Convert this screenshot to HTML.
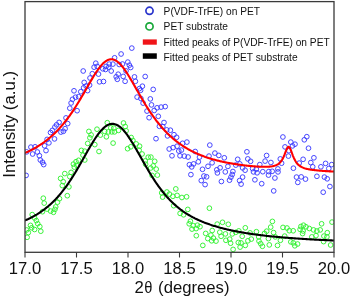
<!DOCTYPE html><html><head><meta charset="utf-8"><style>html,body{margin:0;padding:0;background:#fff;}svg{display:block;will-change:transform;}</style></head><body>
<svg width="350" height="298" viewBox="0 0 350 298">
<rect x="0" y="0" width="350" height="298" fill="#fff"/>
<defs><clipPath id="c"><rect x="25.00" y="1.60" width="309.00" height="250.70"/></clipPath></defs>
<g clip-path="url(#c)" fill="none" stroke-width="0.95">
<g stroke="#3c3cff">
<circle cx="74.0" cy="90.8" r="2.35"/>
<circle cx="83.6" cy="87.8" r="2.35"/>
<circle cx="80.8" cy="91.7" r="2.35"/>
<circle cx="75.5" cy="97.2" r="2.35"/>
<circle cx="72.5" cy="99.3" r="2.35"/>
<circle cx="71.1" cy="103.0" r="2.35"/>
<circle cx="69.8" cy="108.2" r="2.35"/>
<circle cx="77.1" cy="110.7" r="2.35"/>
<circle cx="66.0" cy="117.9" r="2.35"/>
<circle cx="67.7" cy="123.6" r="2.35"/>
<circle cx="59.1" cy="122.4" r="2.35"/>
<circle cx="56.6" cy="124.8" r="2.35"/>
<circle cx="54.9" cy="127.0" r="2.35"/>
<circle cx="52.3" cy="130.4" r="2.35"/>
<circle cx="50.5" cy="132.5" r="2.35"/>
<circle cx="65.1" cy="128.7" r="2.35"/>
<circle cx="63.4" cy="131.3" r="2.35"/>
<circle cx="60.9" cy="132.1" r="2.35"/>
<circle cx="26.6" cy="151.9" r="2.35"/>
<circle cx="30.9" cy="147.1" r="2.35"/>
<circle cx="32.6" cy="154.0" r="2.35"/>
<circle cx="35.1" cy="146.8" r="2.35"/>
<circle cx="37.4" cy="152.0" r="2.35"/>
<circle cx="39.4" cy="155.7" r="2.35"/>
<circle cx="40.3" cy="160.0" r="2.35"/>
<circle cx="42.5" cy="162.2" r="2.35"/>
<circle cx="43.7" cy="164.6" r="2.35"/>
<circle cx="44.6" cy="145.8" r="2.35"/>
<circle cx="46.0" cy="150.6" r="2.35"/>
<circle cx="47.1" cy="139.4" r="2.35"/>
<circle cx="48.9" cy="142.9" r="2.35"/>
<circle cx="54.5" cy="138.9" r="2.35"/>
<circle cx="26.1" cy="175.4" r="2.35"/>
<circle cx="83.2" cy="71.0" r="2.35"/>
<circle cx="92.3" cy="73.7" r="2.35"/>
<circle cx="90.0" cy="78.0" r="2.35"/>
<circle cx="98.5" cy="74.1" r="2.35"/>
<circle cx="99.5" cy="81.8" r="2.35"/>
<circle cx="84.2" cy="82.4" r="2.35"/>
<circle cx="86.1" cy="86.1" r="2.35"/>
<circle cx="89.6" cy="85.1" r="2.35"/>
<circle cx="87.6" cy="90.6" r="2.35"/>
<circle cx="78.6" cy="96.7" r="2.35"/>
<circle cx="121.1" cy="54.0" r="2.35"/>
<circle cx="114.6" cy="57.8" r="2.35"/>
<circle cx="95.8" cy="63.2" r="2.35"/>
<circle cx="94.1" cy="67.2" r="2.35"/>
<circle cx="97.2" cy="66.4" r="2.35"/>
<circle cx="102.8" cy="68.8" r="2.35"/>
<circle cx="105.5" cy="69.5" r="2.35"/>
<circle cx="106.1" cy="66.4" r="2.35"/>
<circle cx="109.2" cy="64.1" r="2.35"/>
<circle cx="112.9" cy="64.1" r="2.35"/>
<circle cx="108.8" cy="67.2" r="2.35"/>
<circle cx="111.2" cy="71.0" r="2.35"/>
<circle cx="119.2" cy="64.5" r="2.35"/>
<circle cx="118.2" cy="74.2" r="2.35"/>
<circle cx="116.2" cy="76.8" r="2.35"/>
<circle cx="117.3" cy="79.3" r="2.35"/>
<circle cx="123.2" cy="76.4" r="2.35"/>
<circle cx="103.5" cy="81.5" r="2.35"/>
<circle cx="122.5" cy="64.0" r="2.35"/>
<circle cx="131.8" cy="48.1" r="2.35"/>
<circle cx="127.8" cy="62.1" r="2.35"/>
<circle cx="129.4" cy="65.2" r="2.35"/>
<circle cx="130.7" cy="67.5" r="2.35"/>
<circle cx="126.0" cy="70.9" r="2.35"/>
<circle cx="134.5" cy="76.9" r="2.35"/>
<circle cx="145.2" cy="76.5" r="2.35"/>
<circle cx="139.4" cy="88.6" r="2.35"/>
<circle cx="142.4" cy="86.2" r="2.35"/>
<circle cx="140.6" cy="90.3" r="2.35"/>
<circle cx="137.1" cy="97.1" r="2.35"/>
<circle cx="140.9" cy="98.5" r="2.35"/>
<circle cx="143.1" cy="103.1" r="2.35"/>
<circle cx="153.2" cy="89.4" r="2.35"/>
<circle cx="150.3" cy="98.9" r="2.35"/>
<circle cx="151.5" cy="104.9" r="2.35"/>
<circle cx="147.0" cy="111.1" r="2.35"/>
<circle cx="154.2" cy="110.5" r="2.35"/>
<circle cx="157.1" cy="107.8" r="2.35"/>
<circle cx="161.1" cy="107.1" r="2.35"/>
<circle cx="165.2" cy="106.6" r="2.35"/>
<circle cx="149.1" cy="117.7" r="2.35"/>
<circle cx="158.3" cy="116.3" r="2.35"/>
<circle cx="164.0" cy="122.5" r="2.35"/>
<circle cx="159.4" cy="126.3" r="2.35"/>
<circle cx="162.8" cy="126.6" r="2.35"/>
<circle cx="166.7" cy="129.9" r="2.35"/>
<circle cx="170.4" cy="130.2" r="2.35"/>
<circle cx="135.4" cy="81.3" r="2.35"/>
<circle cx="125.1" cy="81.3" r="2.35"/>
<circle cx="167.5" cy="135.9" r="2.35"/>
<circle cx="174.0" cy="134.7" r="2.35"/>
<circle cx="176.6" cy="137.3" r="2.35"/>
<circle cx="156.0" cy="138.7" r="2.35"/>
<circle cx="182.6" cy="143.3" r="2.35"/>
<circle cx="186.9" cy="142.1" r="2.35"/>
<circle cx="169.2" cy="149.0" r="2.35"/>
<circle cx="173.1" cy="147.6" r="2.35"/>
<circle cx="177.1" cy="146.2" r="2.35"/>
<circle cx="178.8" cy="151.0" r="2.35"/>
<circle cx="181.4" cy="150.1" r="2.35"/>
<circle cx="172.0" cy="155.8" r="2.35"/>
<circle cx="180.0" cy="155.8" r="2.35"/>
<circle cx="184.3" cy="156.1" r="2.35"/>
<circle cx="188.1" cy="157.0" r="2.35"/>
<circle cx="195.2" cy="151.5" r="2.35"/>
<circle cx="199.5" cy="157.1" r="2.35"/>
<circle cx="198.3" cy="161.8" r="2.35"/>
<circle cx="209.8" cy="145.1" r="2.35"/>
<circle cx="209.0" cy="156.1" r="2.35"/>
<circle cx="189.4" cy="164.7" r="2.35"/>
<circle cx="193.6" cy="163.9" r="2.35"/>
<circle cx="191.7" cy="166.9" r="2.35"/>
<circle cx="190.9" cy="174.6" r="2.35"/>
<circle cx="214.9" cy="153.1" r="2.35"/>
<circle cx="218.8" cy="155.4" r="2.35"/>
<circle cx="224.3" cy="157.8" r="2.35"/>
<circle cx="212.1" cy="162.8" r="2.35"/>
<circle cx="208.0" cy="166.3" r="2.35"/>
<circle cx="202.5" cy="169.3" r="2.35"/>
<circle cx="203.9" cy="176.0" r="2.35"/>
<circle cx="206.6" cy="176.8" r="2.35"/>
<circle cx="216.8" cy="169.8" r="2.35"/>
<circle cx="217.4" cy="172.9" r="2.35"/>
<circle cx="220.1" cy="167.8" r="2.35"/>
<circle cx="227.9" cy="166.4" r="2.35"/>
<circle cx="225.3" cy="171.9" r="2.35"/>
<circle cx="232.9" cy="171.5" r="2.35"/>
<circle cx="232.2" cy="174.5" r="2.35"/>
<circle cx="230.9" cy="177.2" r="2.35"/>
<circle cx="229.5" cy="180.2" r="2.35"/>
<circle cx="221.4" cy="181.5" r="2.35"/>
<circle cx="237.7" cy="159.3" r="2.35"/>
<circle cx="235.8" cy="165.1" r="2.35"/>
<circle cx="239.8" cy="163.9" r="2.35"/>
<circle cx="245.1" cy="170.2" r="2.35"/>
<circle cx="246.9" cy="151.8" r="2.35"/>
<circle cx="247.8" cy="158.9" r="2.35"/>
<circle cx="242.6" cy="177.1" r="2.35"/>
<circle cx="201.3" cy="180.6" r="2.35"/>
<circle cx="239.6" cy="180.6" r="2.35"/>
<circle cx="241.1" cy="184.1" r="2.35"/>
<circle cx="253.5" cy="171.9" r="2.35"/>
<circle cx="257.1" cy="172.8" r="2.35"/>
<circle cx="254.9" cy="179.8" r="2.35"/>
<circle cx="205.1" cy="184.6" r="2.35"/>
<circle cx="282.9" cy="137.0" r="2.35"/>
<circle cx="290.8" cy="142.1" r="2.35"/>
<circle cx="295.0" cy="144.2" r="2.35"/>
<circle cx="292.5" cy="145.9" r="2.35"/>
<circle cx="285.0" cy="146.9" r="2.35"/>
<circle cx="288.9" cy="150.7" r="2.35"/>
<circle cx="288.4" cy="156.1" r="2.35"/>
<circle cx="250.6" cy="161.3" r="2.35"/>
<circle cx="266.6" cy="155.5" r="2.35"/>
<circle cx="265.1" cy="161.1" r="2.35"/>
<circle cx="270.9" cy="162.5" r="2.35"/>
<circle cx="280.3" cy="158.9" r="2.35"/>
<circle cx="281.6" cy="163.2" r="2.35"/>
<circle cx="259.8" cy="164.6" r="2.35"/>
<circle cx="242.6" cy="167.9" r="2.35"/>
<circle cx="256.3" cy="169.2" r="2.35"/>
<circle cx="262.8" cy="171.7" r="2.35"/>
<circle cx="268.8" cy="171.6" r="2.35"/>
<circle cx="272.2" cy="171.3" r="2.35"/>
<circle cx="277.9" cy="168.9" r="2.35"/>
<circle cx="278.0" cy="171.9" r="2.35"/>
<circle cx="293.4" cy="168.2" r="2.35"/>
<circle cx="299.2" cy="163.1" r="2.35"/>
<circle cx="252.6" cy="168.6" r="2.35"/>
<circle cx="268.5" cy="175.1" r="2.35"/>
<circle cx="274.9" cy="178.0" r="2.35"/>
<circle cx="261.7" cy="183.7" r="2.35"/>
<circle cx="273.7" cy="190.9" r="2.35"/>
<circle cx="296.5" cy="177.1" r="2.35"/>
<circle cx="301.2" cy="176.9" r="2.35"/>
<circle cx="305.5" cy="179.1" r="2.35"/>
<circle cx="297.8" cy="182.4" r="2.35"/>
<circle cx="306.8" cy="136.7" r="2.35"/>
<circle cx="304.3" cy="139.8" r="2.35"/>
<circle cx="308.5" cy="148.2" r="2.35"/>
<circle cx="303.1" cy="159.3" r="2.35"/>
<circle cx="313.9" cy="157.8" r="2.35"/>
<circle cx="310.8" cy="162.6" r="2.35"/>
<circle cx="320.9" cy="166.8" r="2.35"/>
<circle cx="325.6" cy="163.4" r="2.35"/>
<circle cx="312.7" cy="166.8" r="2.35"/>
<circle cx="331.7" cy="164.6" r="2.35"/>
<circle cx="328.8" cy="168.5" r="2.35"/>
<circle cx="316.9" cy="176.3" r="2.35"/>
<circle cx="324.4" cy="177.1" r="2.35"/>
<circle cx="327.2" cy="178.8" r="2.35"/>
<circle cx="329.9" cy="186.5" r="2.35"/>
<circle cx="323.2" cy="192.2" r="2.35"/>
</g><g stroke="#30f030">
<circle cx="44.2" cy="203.1" r="2.35"/>
<circle cx="57.5" cy="202.2" r="2.35"/>
<circle cx="55.7" cy="206.9" r="2.35"/>
<circle cx="54.9" cy="209.4" r="2.35"/>
<circle cx="53.5" cy="212.3" r="2.35"/>
<circle cx="50.6" cy="211.1" r="2.35"/>
<circle cx="47.1" cy="209.1" r="2.35"/>
<circle cx="42.5" cy="211.7" r="2.35"/>
<circle cx="32.2" cy="214.6" r="2.35"/>
<circle cx="34.6" cy="218.0" r="2.35"/>
<circle cx="36.3" cy="220.6" r="2.35"/>
<circle cx="37.7" cy="223.7" r="2.35"/>
<circle cx="39.8" cy="226.6" r="2.35"/>
<circle cx="40.8" cy="231.2" r="2.35"/>
<circle cx="30.5" cy="225.4" r="2.35"/>
<circle cx="31.7" cy="227.8" r="2.35"/>
<circle cx="34.6" cy="229.5" r="2.35"/>
<circle cx="26.6" cy="230.0" r="2.35"/>
<circle cx="28.3" cy="232.6" r="2.35"/>
<circle cx="27.1" cy="237.3" r="2.35"/>
<circle cx="64.8" cy="173.6" r="2.35"/>
<circle cx="71.1" cy="172.4" r="2.35"/>
<circle cx="60.6" cy="178.4" r="2.35"/>
<circle cx="63.2" cy="181.7" r="2.35"/>
<circle cx="69.8" cy="176.6" r="2.35"/>
<circle cx="62.3" cy="185.6" r="2.35"/>
<circle cx="68.9" cy="186.9" r="2.35"/>
<circle cx="67.3" cy="195.7" r="2.35"/>
<circle cx="43.3" cy="198.2" r="2.35"/>
<circle cx="59.5" cy="198.7" r="2.35"/>
<circle cx="81.4" cy="150.4" r="2.35"/>
<circle cx="84.8" cy="151.2" r="2.35"/>
<circle cx="99.0" cy="151.5" r="2.35"/>
<circle cx="83.0" cy="155.1" r="2.35"/>
<circle cx="84.8" cy="160.0" r="2.35"/>
<circle cx="78.6" cy="160.3" r="2.35"/>
<circle cx="76.0" cy="161.7" r="2.35"/>
<circle cx="73.4" cy="164.1" r="2.35"/>
<circle cx="76.9" cy="165.4" r="2.35"/>
<circle cx="74.3" cy="167.1" r="2.35"/>
<circle cx="107.3" cy="122.7" r="2.35"/>
<circle cx="123.5" cy="123.0" r="2.35"/>
<circle cx="125.2" cy="126.5" r="2.35"/>
<circle cx="97.0" cy="129.2" r="2.35"/>
<circle cx="110.8" cy="127.8" r="2.35"/>
<circle cx="113.8" cy="128.1" r="2.35"/>
<circle cx="104.7" cy="131.4" r="2.35"/>
<circle cx="108.4" cy="131.9" r="2.35"/>
<circle cx="111.8" cy="131.9" r="2.35"/>
<circle cx="114.5" cy="131.9" r="2.35"/>
<circle cx="118.5" cy="130.4" r="2.35"/>
<circle cx="126.1" cy="130.8" r="2.35"/>
<circle cx="100.4" cy="135.1" r="2.35"/>
<circle cx="106.4" cy="136.8" r="2.35"/>
<circle cx="113.1" cy="143.1" r="2.35"/>
<circle cx="94.8" cy="144.6" r="2.35"/>
<circle cx="131.2" cy="137.5" r="2.35"/>
<circle cx="132.9" cy="140.5" r="2.35"/>
<circle cx="127.6" cy="148.7" r="2.35"/>
<circle cx="130.8" cy="146.8" r="2.35"/>
<circle cx="88.9" cy="131.4" r="2.35"/>
<circle cx="91.1" cy="134.9" r="2.35"/>
<circle cx="89.9" cy="137.8" r="2.35"/>
<circle cx="87.7" cy="143.4" r="2.35"/>
<circle cx="136.2" cy="143.9" r="2.35"/>
<circle cx="139.6" cy="146.2" r="2.35"/>
<circle cx="139.1" cy="150.2" r="2.35"/>
<circle cx="142.1" cy="154.0" r="2.35"/>
<circle cx="148.2" cy="157.2" r="2.35"/>
<circle cx="145.2" cy="160.9" r="2.35"/>
<circle cx="145.6" cy="164.2" r="2.35"/>
<circle cx="154.7" cy="161.3" r="2.35"/>
<circle cx="153.2" cy="165.9" r="2.35"/>
<circle cx="150.7" cy="168.0" r="2.35"/>
<circle cx="156.2" cy="169.1" r="2.35"/>
<circle cx="152.1" cy="175.4" r="2.35"/>
<circle cx="157.4" cy="175.1" r="2.35"/>
<circle cx="150.9" cy="157.1" r="2.35"/>
<circle cx="175.8" cy="188.9" r="2.35"/>
<circle cx="166.9" cy="192.0" r="2.35"/>
<circle cx="169.4" cy="194.1" r="2.35"/>
<circle cx="172.9" cy="196.3" r="2.35"/>
<circle cx="177.1" cy="195.4" r="2.35"/>
<circle cx="181.9" cy="197.5" r="2.35"/>
<circle cx="186.6" cy="196.8" r="2.35"/>
<circle cx="161.7" cy="192.9" r="2.35"/>
<circle cx="162.6" cy="197.1" r="2.35"/>
<circle cx="173.7" cy="205.7" r="2.35"/>
<circle cx="187.8" cy="209.4" r="2.35"/>
<circle cx="209.4" cy="208.2" r="2.35"/>
<circle cx="180.1" cy="213.4" r="2.35"/>
<circle cx="183.6" cy="214.8" r="2.35"/>
<circle cx="190.4" cy="221.2" r="2.35"/>
<circle cx="189.2" cy="223.8" r="2.35"/>
<circle cx="193.3" cy="225.7" r="2.35"/>
<circle cx="197.4" cy="225.2" r="2.35"/>
<circle cx="200.0" cy="226.7" r="2.35"/>
<circle cx="196.1" cy="228.6" r="2.35"/>
<circle cx="217.2" cy="224.1" r="2.35"/>
<circle cx="192.0" cy="229.1" r="2.35"/>
<circle cx="196.3" cy="235.7" r="2.35"/>
<circle cx="205.7" cy="233.4" r="2.35"/>
<circle cx="212.2" cy="230.5" r="2.35"/>
<circle cx="210.9" cy="235.1" r="2.35"/>
<circle cx="207.8" cy="238.6" r="2.35"/>
<circle cx="213.4" cy="238.1" r="2.35"/>
<circle cx="216.0" cy="241.1" r="2.35"/>
<circle cx="211.7" cy="240.8" r="2.35"/>
<circle cx="222.5" cy="222.3" r="2.35"/>
<circle cx="228.3" cy="224.3" r="2.35"/>
<circle cx="219.8" cy="232.2" r="2.35"/>
<circle cx="221.1" cy="236.3" r="2.35"/>
<circle cx="225.4" cy="233.9" r="2.35"/>
<circle cx="225.9" cy="240.3" r="2.35"/>
<circle cx="229.7" cy="239.1" r="2.35"/>
<circle cx="230.6" cy="243.2" r="2.35"/>
<circle cx="232.3" cy="233.9" r="2.35"/>
<circle cx="235.8" cy="232.3" r="2.35"/>
<circle cx="238.3" cy="242.5" r="2.35"/>
<circle cx="202.8" cy="245.4" r="2.35"/>
<circle cx="233.1" cy="249.4" r="2.35"/>
<circle cx="272.4" cy="221.4" r="2.35"/>
<circle cx="270.7" cy="227.1" r="2.35"/>
<circle cx="245.3" cy="227.8" r="2.35"/>
<circle cx="238.8" cy="230.9" r="2.35"/>
<circle cx="250.1" cy="232.9" r="2.35"/>
<circle cx="256.4" cy="231.7" r="2.35"/>
<circle cx="266.7" cy="231.2" r="2.35"/>
<circle cx="264.5" cy="233.4" r="2.35"/>
<circle cx="273.6" cy="232.6" r="2.35"/>
<circle cx="283.0" cy="227.4" r="2.35"/>
<circle cx="287.0" cy="228.0" r="2.35"/>
<circle cx="289.3" cy="230.7" r="2.35"/>
<circle cx="293.2" cy="230.8" r="2.35"/>
<circle cx="242.2" cy="236.3" r="2.35"/>
<circle cx="251.3" cy="239.1" r="2.35"/>
<circle cx="247.9" cy="240.8" r="2.35"/>
<circle cx="258.7" cy="236.9" r="2.35"/>
<circle cx="259.0" cy="241.1" r="2.35"/>
<circle cx="260.7" cy="243.7" r="2.35"/>
<circle cx="262.4" cy="246.3" r="2.35"/>
<circle cx="268.4" cy="238.6" r="2.35"/>
<circle cx="275.3" cy="236.9" r="2.35"/>
<circle cx="280.4" cy="240.3" r="2.35"/>
<circle cx="284.7" cy="236.1" r="2.35"/>
<circle cx="290.8" cy="241.9" r="2.35"/>
<circle cx="293.3" cy="242.9" r="2.35"/>
<circle cx="241.0" cy="242.9" r="2.35"/>
<circle cx="245.3" cy="245.4" r="2.35"/>
<circle cx="240.1" cy="247.1" r="2.35"/>
<circle cx="269.3" cy="244.9" r="2.35"/>
<circle cx="277.5" cy="245.4" r="2.35"/>
<circle cx="294.8" cy="245.8" r="2.35"/>
<circle cx="300.9" cy="226.5" r="2.35"/>
<circle cx="303.5" cy="225.2" r="2.35"/>
<circle cx="306.0" cy="226.8" r="2.35"/>
<circle cx="300.1" cy="229.4" r="2.35"/>
<circle cx="303.1" cy="231.0" r="2.35"/>
<circle cx="302.6" cy="233.6" r="2.35"/>
<circle cx="309.3" cy="228.5" r="2.35"/>
<circle cx="313.5" cy="229.9" r="2.35"/>
<circle cx="316.9" cy="231.0" r="2.35"/>
<circle cx="320.2" cy="229.9" r="2.35"/>
<circle cx="321.6" cy="223.8" r="2.35"/>
<circle cx="332.0" cy="222.1" r="2.35"/>
<circle cx="316.0" cy="235.6" r="2.35"/>
<circle cx="311.8" cy="236.9" r="2.35"/>
<circle cx="323.9" cy="236.1" r="2.35"/>
<circle cx="327.3" cy="232.7" r="2.35"/>
<circle cx="326.9" cy="236.9" r="2.35"/>
<circle cx="323.6" cy="241.6" r="2.35"/>
<circle cx="330.6" cy="245.0" r="2.35"/>
<circle cx="297.6" cy="244.0" r="2.35"/>
</g>
<path d="M25.00,152.97 L25.77,152.64 L26.55,152.30 L27.32,151.95 L28.10,151.59 L28.87,151.23 L29.65,150.86 L30.42,150.48 L31.20,150.09 L31.97,149.70 L32.74,149.29 L33.52,148.88 L34.29,148.45 L35.07,148.02 L35.84,147.58 L36.62,147.12 L37.39,146.66 L38.17,146.19 L38.94,145.71 L39.71,145.21 L40.49,144.71 L41.26,144.19 L42.04,143.67 L42.81,143.13 L43.59,142.58 L44.36,142.02 L45.14,141.44 L45.91,140.86 L46.68,140.26 L47.46,139.65 L48.23,139.02 L49.01,138.38 L49.78,137.73 L50.56,137.07 L51.33,136.39 L52.11,135.69 L52.88,134.98 L53.65,134.26 L54.43,133.52 L55.20,132.77 L55.98,132.00 L56.75,131.21 L57.53,130.41 L58.30,129.60 L59.08,128.76 L59.85,127.91 L60.62,127.05 L61.40,126.16 L62.17,125.26 L62.95,124.34 L63.72,123.41 L64.50,122.45 L65.27,121.48 L66.05,120.49 L66.82,119.49 L67.59,118.46 L68.37,117.42 L69.14,116.36 L69.92,115.28 L70.69,114.18 L71.47,113.07 L72.24,111.94 L73.02,110.79 L73.79,109.62 L74.56,108.43 L75.34,107.23 L76.11,106.02 L76.89,104.78 L77.66,103.54 L78.44,102.27 L79.21,101.00 L79.98,99.71 L80.76,98.41 L81.53,97.09 L82.31,95.77 L83.08,94.44 L83.86,93.10 L84.63,91.75 L85.41,90.40 L86.18,89.05 L86.95,87.69 L87.73,86.34 L88.50,84.99 L89.28,83.64 L90.05,82.30 L90.83,80.97 L91.60,79.65 L92.38,78.35 L93.15,77.06 L93.92,75.79 L94.70,74.55 L95.47,73.33 L96.25,72.15 L97.02,70.99 L97.80,69.88 L98.57,68.80 L99.35,67.76 L100.12,66.77 L100.89,65.83 L101.67,64.94 L102.44,64.11 L103.22,63.34 L103.99,62.62 L104.77,61.97 L105.54,61.39 L106.32,60.87 L107.09,60.43 L107.86,60.06 L108.64,59.76 L109.41,59.53 L110.19,59.38 L110.96,59.31 L111.74,59.32 L112.51,59.40 L113.29,59.56 L114.06,59.79 L114.83,60.10 L115.61,60.49 L116.38,60.94 L117.16,61.47 L117.93,62.06 L118.71,62.72 L119.48,63.45 L120.26,64.23 L121.03,65.08 L121.80,65.97 L122.58,66.92 L123.35,67.92 L124.13,68.97 L124.90,70.06 L125.68,71.18 L126.45,72.35 L127.23,73.54 L128.00,74.77 L128.77,76.02 L129.55,77.30 L130.32,78.59 L131.10,79.90 L131.87,81.23 L132.65,82.57 L133.42,83.92 L134.20,85.28 L134.97,86.64 L135.74,88.00 L136.52,89.36 L137.29,90.73 L138.07,92.09 L138.84,93.44 L139.62,94.79 L140.39,96.13 L141.17,97.46 L141.94,98.78 L142.71,100.09 L143.49,101.39 L144.26,102.68 L145.04,103.95 L145.81,105.20 L146.59,106.44 L147.36,107.67 L148.14,108.88 L148.91,110.07 L149.68,111.24 L150.46,112.40 L151.23,113.54 L152.01,114.67 L152.78,115.77 L153.56,116.86 L154.33,117.93 L155.11,118.98 L155.88,120.01 L156.65,121.03 L157.43,122.02 L158.20,123.00 L158.98,123.96 L159.75,124.91 L160.53,125.83 L161.30,126.74 L162.08,127.63 L162.85,128.51 L163.62,129.37 L164.40,130.21 L165.17,131.03 L165.95,131.84 L166.72,132.64 L167.50,133.41 L168.27,134.17 L169.05,134.92 L169.82,135.65 L170.59,136.37 L171.37,137.07 L172.14,137.76 L172.92,138.43 L173.69,139.09 L174.47,139.74 L175.24,140.37 L176.02,140.99 L176.79,141.60 L177.56,142.19 L178.34,142.77 L179.11,143.34 L179.89,143.90 L180.66,144.45 L181.44,144.98 L182.21,145.51 L182.98,146.02 L183.76,146.52 L184.53,147.01 L185.31,147.49 L186.08,147.96 L186.86,148.42 L187.63,148.87 L188.41,149.31 L189.18,149.74 L189.95,150.16 L190.73,150.58 L191.50,150.98 L192.28,151.38 L193.05,151.76 L193.83,152.14 L194.60,152.51 L195.38,152.88 L196.15,153.23 L196.92,153.58 L197.70,153.92 L198.47,154.25 L199.25,154.58 L200.02,154.90 L200.80,155.21 L201.57,155.51 L202.35,155.81 L203.12,156.10 L203.89,156.39 L204.67,156.67 L205.44,156.95 L206.22,157.21 L206.99,157.48 L207.77,157.73 L208.54,157.99 L209.32,158.23 L210.09,158.47 L210.86,158.71 L211.64,158.94 L212.41,159.17 L213.19,159.39 L213.96,159.60 L214.74,159.82 L215.51,160.03 L216.29,160.23 L217.06,160.43 L217.83,160.62 L218.61,160.81 L219.38,161.00 L220.16,161.19 L220.93,161.37 L221.71,161.54 L222.48,161.71 L223.26,161.88 L224.03,162.05 L224.80,162.21 L225.58,162.37 L226.35,162.52 L227.13,162.68 L227.90,162.83 L228.68,162.97 L229.45,163.12 L230.23,163.26 L231.00,163.39 L231.77,163.53 L232.55,163.66 L233.32,163.79 L234.10,163.91 L234.87,164.04 L235.65,164.16 L236.42,164.28 L237.20,164.39 L237.97,164.51 L238.74,164.62 L239.52,164.73 L240.29,164.83 L241.07,164.94 L241.84,165.04 L242.62,165.14 L243.39,165.24 L244.17,165.33 L244.94,165.42 L245.71,165.51 L246.49,165.60 L247.26,165.68 L248.04,165.77 L248.81,165.85 L249.59,165.92 L250.36,166.00 L251.14,166.07 L251.91,166.14 L252.68,166.21 L253.46,166.28 L254.23,166.34 L255.01,166.40 L255.78,166.45 L256.56,166.51 L257.33,166.55 L258.11,166.60 L258.88,166.64 L259.65,166.68 L260.43,166.71 L261.20,166.74 L261.98,166.77 L262.75,166.79 L263.53,166.80 L264.30,166.81 L265.08,166.81 L265.85,166.80 L266.62,166.78 L267.40,166.75 L268.17,166.72 L268.95,166.67 L269.72,166.60 L270.50,166.52 L271.27,166.43 L272.05,166.31 L272.82,166.17 L273.59,165.99 L274.37,165.79 L275.14,165.55 L275.92,165.26 L276.69,164.91 L277.47,164.51 L278.24,164.02 L279.02,163.44 L279.79,162.74 L280.56,161.92 L281.34,160.93 L282.11,159.76 L282.89,158.38 L283.66,156.77 L284.44,154.95 L285.21,152.97 L285.98,150.94 L286.76,149.07 L287.53,147.63 L288.31,146.88 L289.08,147.00 L289.86,147.97 L290.63,149.60 L291.41,151.61 L292.18,153.74 L292.95,155.80 L293.73,157.68 L294.50,159.35 L295.28,160.79 L296.05,162.03 L296.83,163.09 L297.60,163.99 L298.38,164.76 L299.15,165.42 L299.92,166.00 L300.70,166.49 L301.47,166.93 L302.25,167.31 L303.02,167.64 L303.80,167.94 L304.57,168.21 L305.35,168.45 L306.12,168.66 L306.89,168.86 L307.67,169.04 L308.44,169.20 L309.22,169.35 L309.99,169.49 L310.77,169.62 L311.54,169.74 L312.32,169.85 L313.09,169.96 L313.86,170.06 L314.64,170.15 L315.41,170.24 L316.19,170.32 L316.96,170.40 L317.74,170.48 L318.51,170.55 L319.29,170.62 L320.06,170.69 L320.83,170.75 L321.61,170.81 L322.38,170.87 L323.16,170.93 L323.93,170.98 L324.71,171.04 L325.48,171.09 L326.26,171.14 L327.03,171.19 L327.80,171.24 L328.58,171.28 L329.35,171.33 L330.13,171.37 L330.90,171.41 L331.68,171.45 L332.45,171.50 L333.23,171.54 L334.00,171.57" stroke="#ff0000" stroke-width="2.10" stroke-linejoin="round"/>
<path d="M25.00,220.50 L25.77,220.16 L26.55,219.81 L27.32,219.45 L28.10,219.09 L28.87,218.72 L29.65,218.34 L30.42,217.95 L31.20,217.56 L31.97,217.15 L32.74,216.74 L33.52,216.32 L34.29,215.89 L35.07,215.45 L35.84,215.00 L36.62,214.54 L37.39,214.06 L38.17,213.58 L38.94,213.09 L39.71,212.59 L40.49,212.07 L41.26,211.55 L42.04,211.01 L42.81,210.46 L43.59,209.89 L44.36,209.31 L45.14,208.72 L45.91,208.12 L46.68,207.50 L47.46,206.87 L48.23,206.22 L49.01,205.56 L49.78,204.88 L50.56,204.19 L51.33,203.48 L52.11,202.75 L52.88,202.01 L53.65,201.25 L54.43,200.47 L55.20,199.68 L55.98,198.86 L56.75,198.03 L57.53,197.19 L58.30,196.32 L59.08,195.43 L59.85,194.53 L60.62,193.60 L61.40,192.66 L62.17,191.70 L62.95,190.72 L63.72,189.72 L64.50,188.69 L65.27,187.65 L66.05,186.59 L66.82,185.52 L67.59,184.42 L68.37,183.30 L69.14,182.16 L69.92,181.01 L70.69,179.83 L71.47,178.64 L72.24,177.43 L73.02,176.21 L73.79,174.96 L74.56,173.71 L75.34,172.43 L76.11,171.15 L76.89,169.84 L77.66,168.53 L78.44,167.21 L79.21,165.87 L79.98,164.52 L80.76,163.17 L81.53,161.81 L82.31,160.44 L83.08,159.07 L83.86,157.70 L84.63,156.32 L85.41,154.95 L86.18,153.58 L86.95,152.21 L87.73,150.85 L88.50,149.50 L89.28,148.16 L90.05,146.83 L90.83,145.51 L91.60,144.21 L92.38,142.93 L93.15,141.67 L93.92,140.44 L94.70,139.23 L95.47,138.05 L96.25,136.90 L97.02,135.79 L97.80,134.71 L98.57,133.67 L99.35,132.67 L100.12,131.72 L100.89,130.80 L101.67,129.94 L102.44,129.13 L103.22,128.36 L103.99,127.66 L104.77,127.00 L105.54,126.41 L106.32,125.87 L107.09,125.40 L107.86,124.98 L108.64,124.63 L109.41,124.34 L110.19,124.12 L110.96,123.96 L111.74,123.87 L112.51,123.84 L113.29,123.88 L114.06,123.99 L114.83,124.16 L115.61,124.40 L116.38,124.70 L117.16,125.06 L117.93,125.49 L118.71,125.98 L119.48,126.53 L120.26,127.13 L121.03,127.80 L121.80,128.52 L122.58,129.29 L123.35,130.12 L124.13,130.99 L124.90,131.91 L125.68,132.88 L126.45,133.88 L127.23,134.93 L128.00,136.02 L128.77,137.14 L129.55,138.30 L130.32,139.48 L131.10,140.70 L131.87,141.94 L132.65,143.20 L133.42,144.49 L134.20,145.79 L134.97,147.11 L135.74,148.44 L136.52,149.79 L137.29,151.15 L138.07,152.51 L138.84,153.88 L139.62,155.25 L140.39,156.63 L141.17,158.00 L141.94,159.38 L142.71,160.75 L143.49,162.12 L144.26,163.48 L145.04,164.83 L145.81,166.18 L146.59,167.51 L147.36,168.84 L148.14,170.15 L148.91,171.45 L149.68,172.74 L150.46,174.01 L151.23,175.27 L152.01,176.51 L152.78,177.73 L153.56,178.94 L154.33,180.13 L155.11,181.30 L155.88,182.46 L156.65,183.59 L157.43,184.71 L158.20,185.80 L158.98,186.88 L159.75,187.94 L160.53,188.98 L161.30,190.00 L162.08,191.00 L162.85,191.98 L163.62,192.94 L164.40,193.88 L165.17,194.80 L165.95,195.70 L166.72,196.59 L167.50,197.45 L168.27,198.30 L169.05,199.13 L169.82,199.94 L170.59,200.73 L171.37,201.50 L172.14,202.26 L172.92,203.00 L173.69,203.73 L174.47,204.44 L175.24,205.13 L176.02,205.81 L176.79,206.47 L177.56,207.11 L178.34,207.75 L179.11,208.36 L179.89,208.97 L180.66,209.56 L181.44,210.13 L182.21,210.70 L182.98,211.25 L183.76,211.78 L184.53,212.31 L185.31,212.83 L186.08,213.33 L186.86,213.82 L187.63,214.30 L188.41,214.77 L189.18,215.23 L189.95,215.68 L190.73,216.12 L191.50,216.55 L192.28,216.97 L193.05,217.39 L193.83,217.79 L194.60,218.19 L195.38,218.57 L196.15,218.95 L196.92,219.32 L197.70,219.69 L198.47,220.04 L199.25,220.39 L200.02,220.73 L200.80,221.07 L201.57,221.40 L202.35,221.72 L203.12,222.04 L203.89,222.35 L204.67,222.65 L205.44,222.95 L206.22,223.24 L206.99,223.53 L207.77,223.81 L208.54,224.08 L209.32,224.36 L210.09,224.62 L210.86,224.88 L211.64,225.14 L212.41,225.39 L213.19,225.64 L213.96,225.88 L214.74,226.12 L215.51,226.36 L216.29,226.59 L217.06,226.81 L217.83,227.04 L218.61,227.25 L219.38,227.47 L220.16,227.68 L220.93,227.89 L221.71,228.09 L222.48,228.29 L223.26,228.49 L224.03,228.69 L224.80,228.88 L225.58,229.07 L226.35,229.25 L227.13,229.43 L227.90,229.61 L228.68,229.79 L229.45,229.96 L230.23,230.13 L231.00,230.30 L231.77,230.46 L232.55,230.63 L233.32,230.79 L234.10,230.95 L234.87,231.10 L235.65,231.25 L236.42,231.40 L237.20,231.55 L237.97,231.70 L238.74,231.84 L239.52,231.98 L240.29,232.12 L241.07,232.26 L241.84,232.40 L242.62,232.53 L243.39,232.66 L244.17,232.79 L244.94,232.92 L245.71,233.04 L246.49,233.17 L247.26,233.29 L248.04,233.41 L248.81,233.53 L249.59,233.65 L250.36,233.76 L251.14,233.88 L251.91,233.99 L252.68,234.10 L253.46,234.21 L254.23,234.31 L255.01,234.42 L255.78,234.52 L256.56,234.63 L257.33,234.73 L258.11,234.83 L258.88,234.93 L259.65,235.03 L260.43,235.12 L261.20,235.22 L261.98,235.31 L262.75,235.40 L263.53,235.49 L264.30,235.58 L265.08,235.67 L265.85,235.76 L266.62,235.85 L267.40,235.93 L268.17,236.02 L268.95,236.10 L269.72,236.18 L270.50,236.26 L271.27,236.34 L272.05,236.42 L272.82,236.50 L273.59,236.58 L274.37,236.65 L275.14,236.73 L275.92,236.80 L276.69,236.88 L277.47,236.95 L278.24,237.02 L279.02,237.09 L279.79,237.16 L280.56,237.23 L281.34,237.30 L282.11,237.36 L282.89,237.43 L283.66,237.50 L284.44,237.56 L285.21,237.63 L285.98,237.69 L286.76,237.75 L287.53,237.81 L288.31,237.87 L289.08,237.93 L289.86,237.99 L290.63,238.05 L291.41,238.11 L292.18,238.17 L292.95,238.23 L293.73,238.28 L294.50,238.34 L295.28,238.39 L296.05,238.45 L296.83,238.50 L297.60,238.55 L298.38,238.61 L299.15,238.66 L299.92,238.71 L300.70,238.76 L301.47,238.81 L302.25,238.86 L303.02,238.91 L303.80,238.96 L304.57,239.01 L305.35,239.05 L306.12,239.10 L306.89,239.15 L307.67,239.19 L308.44,239.24 L309.22,239.28 L309.99,239.33 L310.77,239.37 L311.54,239.42 L312.32,239.46 L313.09,239.50 L313.86,239.54 L314.64,239.59 L315.41,239.63 L316.19,239.67 L316.96,239.71 L317.74,239.75 L318.51,239.79 L319.29,239.83 L320.06,239.87 L320.83,239.91 L321.61,239.94 L322.38,239.98 L323.16,240.02 L323.93,240.06 L324.71,240.09 L325.48,240.13 L326.26,240.17 L327.03,240.20 L327.80,240.24 L328.58,240.27 L329.35,240.31 L330.13,240.34 L330.90,240.37 L331.68,240.41 L332.45,240.44 L333.23,240.47 L334.00,240.51" stroke="#000" stroke-width="2.10" stroke-linejoin="round"/>
</g>
<rect x="25.00" y="1.60" width="309.00" height="250.70" fill="none" stroke="#3a3a3a" stroke-width="1.30"/>
<line x1="25.00" y1="252.30" x2="25.00" y2="257.50" stroke="#3a3a3a" stroke-width="1.10"/>
<text x="25.00" y="273.50" font-size="16.60" text-anchor="middle" font-family="Liberation Sans, sans-serif" fill="#111">17.0</text>
<line x1="76.50" y1="252.30" x2="76.50" y2="257.50" stroke="#3a3a3a" stroke-width="1.10"/>
<text x="76.50" y="273.50" font-size="16.60" text-anchor="middle" font-family="Liberation Sans, sans-serif" fill="#111">17.5</text>
<line x1="128.00" y1="252.30" x2="128.00" y2="257.50" stroke="#3a3a3a" stroke-width="1.10"/>
<text x="128.00" y="273.50" font-size="16.60" text-anchor="middle" font-family="Liberation Sans, sans-serif" fill="#111">18.0</text>
<line x1="179.50" y1="252.30" x2="179.50" y2="257.50" stroke="#3a3a3a" stroke-width="1.10"/>
<text x="179.50" y="273.50" font-size="16.60" text-anchor="middle" font-family="Liberation Sans, sans-serif" fill="#111">18.5</text>
<line x1="231.00" y1="252.30" x2="231.00" y2="257.50" stroke="#3a3a3a" stroke-width="1.10"/>
<text x="231.00" y="273.50" font-size="16.60" text-anchor="middle" font-family="Liberation Sans, sans-serif" fill="#111">19.0</text>
<line x1="282.50" y1="252.30" x2="282.50" y2="257.50" stroke="#3a3a3a" stroke-width="1.10"/>
<text x="282.50" y="273.50" font-size="16.60" text-anchor="middle" font-family="Liberation Sans, sans-serif" fill="#111">19.5</text>
<line x1="334.00" y1="252.30" x2="334.00" y2="257.50" stroke="#3a3a3a" stroke-width="1.10"/>
<text x="334.00" y="273.50" font-size="16.60" text-anchor="middle" font-family="Liberation Sans, sans-serif" fill="#111">20.0</text>
<text x="134.60" y="293.30" font-size="16.70" font-family="Liberation Sans, sans-serif" fill="#111">2</text>
<text transform="translate(148.30,293.30) scale(0.880,1)" x="0" y="0" font-size="16.70" text-anchor="middle" font-family="Liberation Sans, sans-serif" fill="#111">θ</text>
<text x="158.10" y="293.30" font-size="16.70" font-family="Liberation Sans, sans-serif" fill="#111">(degrees)</text>
<text transform="translate(14.50,124.30) rotate(-90)" x="0" y="0" font-size="16.90" text-anchor="middle" font-family="Liberation Sans, sans-serif" fill="#111">Intensity (a.u.)</text>
<circle cx="149.5" cy="10.8" r="3.6" fill="none" stroke="#2a35cc" stroke-width="1.7"/>
<circle cx="149.5" cy="26.4" r="3.6" fill="none" stroke="#19a83a" stroke-width="1.7"/>
<rect x="142.8" y="39.4" width="14.0" height="5.3" fill="#f01418"/>
<rect x="142.8" y="53.3" width="14.0" height="5.5" fill="#000"/>
<text x="163.60" y="14.60" font-size="10.20" font-family="Liberation Sans, sans-serif" fill="#111">P(VDF-TrFE) on PET</text>
<text x="163.60" y="30.20" font-size="10.20" font-family="Liberation Sans, sans-serif" fill="#111">PET substrate</text>
<text x="163.60" y="45.80" font-size="10.20" font-family="Liberation Sans, sans-serif" fill="#111">Fitted peaks of P(VDF-TrFE) on PET</text>
<text x="163.60" y="61.20" font-size="10.20" font-family="Liberation Sans, sans-serif" fill="#111">Fitted peaks of PET substrate</text>
</svg></body></html>
